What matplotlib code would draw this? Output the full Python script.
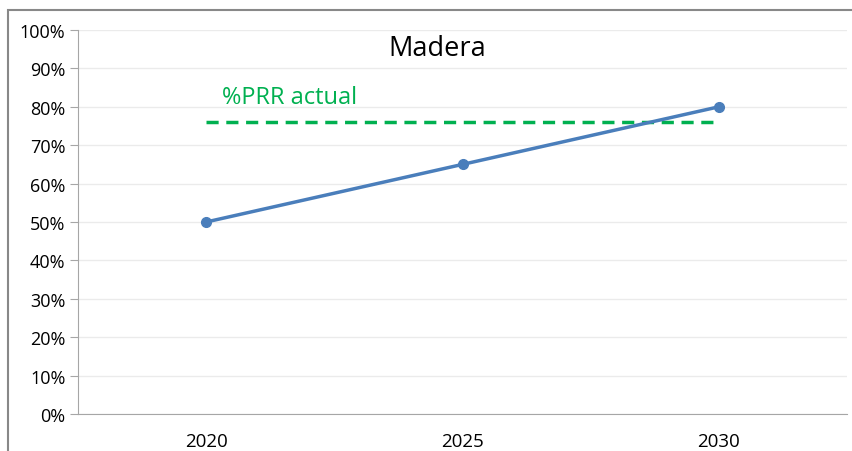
import matplotlib
matplotlib.use("Agg")
import matplotlib.pyplot as plt
from matplotlib.patches import Rectangle
from matplotlib.ticker import FuncFormatter, MultipleLocator

years = ["2020", "2025", "2030"]
prr_target = [0.50, 0.65, 0.80]
prr_actual = 0.76

blue = "#4A7EBB"
green = "#00B050"

plt.rcParams["font.family"] = ["Open Sans", "DejaVu Sans"]

fig = plt.figure(figsize=(8.52, 4.52), dpi=100)
W, H = 852, 452
ax = fig.add_axes([78 / W, 1 - 415 / H, (847 - 78) / W, (415 - 31) / H])

x = list(range(len(years)))
ax.plot(x, prr_target, color=blue, lw=2.5, marker="o", ms=7, zorder=3)
ax.plot([x[0], x[-1]], [prr_actual, prr_actual], color=green, lw=2.5,
        ls=(0, (3.5, 2.2)), zorder=2)

ax.text(x[0] + 0.06, prr_actual + 0.035, "%PRR actual", color=green,
        fontsize=17, ha="left", va="bottom")
ax.text(0.467, 0.99, "Madera", transform=ax.transAxes, fontsize=19.5,
        ha="center", va="top")

ax.set_xlim(-0.5, len(years) - 0.5)
ax.set_ylim(0, 1)
ax.set_xticks(x)
ax.set_xticklabels(years)
ax.yaxis.set_major_locator(MultipleLocator(0.1))
ax.yaxis.set_major_formatter(FuncFormatter(lambda v, p: "{:.0f}%".format(v * 100)))
ax.grid(axis="y", color="#ebebeb", lw=1)
ax.set_axisbelow(True)

for s in ["top", "right"]:
    ax.spines[s].set_visible(False)
ax.spines["left"].set_color("#a6a6a6")
ax.spines["bottom"].set_color("#a6a6a6")
ax.tick_params(axis="y", length=6, color="#a6a6a6", labelsize=13, pad=3)
ax.tick_params(axis="x", length=0, labelsize=13.5, pad=13)

# outer chart frame
fig.patches.append(Rectangle((8 / W, -0.1), 1.2, 1 - 11 / H + 0.1,
                             transform=fig.transFigure, fill=False,
                             edgecolor="#888888", lw=1.5))

plt.savefig("out.png", dpi=100)
